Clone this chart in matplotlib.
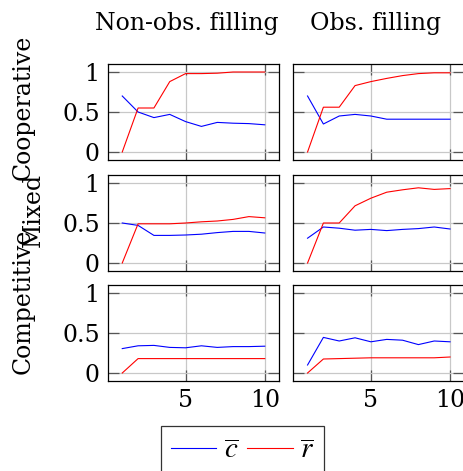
import matplotlib
matplotlib.use("Agg")
import matplotlib.pyplot as plt
from matplotlib.lines import Line2D

plt.rcParams['font.family'] = ['DejaVu Serif']
plt.rcParams['mathtext.fontset'] = 'stix'

# episodes on the x axis
steps = [1, 2, 3, 4, 5, 6, 7, 8, 9, 10]

col_titles = ["Non-obs. filling", "Obs. filling"]
row_titles = ["Cooperative", "Mixed", "Competitive"]

# mean c (blue) per panel, rows then columns
c_coop_nonobs = [0.70, 0.50, 0.43, 0.47, 0.38, 0.32, 0.37, 0.36, 0.355, 0.34]
c_coop_obs = [0.70, 0.35, 0.45, 0.47, 0.45, 0.41, 0.41, 0.41, 0.41, 0.41]
c_mixed_nonobs = [0.50, 0.47, 0.345, 0.345, 0.35, 0.36, 0.38, 0.395, 0.395, 0.375]
c_mixed_obs = [0.31, 0.45, 0.435, 0.41, 0.42, 0.405, 0.42, 0.43, 0.45, 0.425]
c_comp_nonobs = [0.305, 0.34, 0.345, 0.32, 0.315, 0.34, 0.32, 0.33, 0.33, 0.335]
c_comp_obs = [0.10, 0.445, 0.40, 0.44, 0.39, 0.42, 0.41, 0.355, 0.40, 0.39]

# mean r (red) per panel
r_coop_nonobs = [0.0, 0.55, 0.55, 0.88, 0.98, 0.98, 0.985, 1.0, 1.0, 1.0]
r_coop_obs = [0.0, 0.56, 0.56, 0.83, 0.88, 0.92, 0.955, 0.98, 0.99, 0.99]
r_mixed_nonobs = [0.0, 0.49, 0.49, 0.49, 0.50, 0.515, 0.525, 0.545, 0.58, 0.565]
r_mixed_obs = [0.0, 0.50, 0.50, 0.715, 0.81, 0.885, 0.915, 0.94, 0.92, 0.93]
r_comp_nonobs = [0.0, 0.18, 0.18, 0.18, 0.18, 0.18, 0.18, 0.18, 0.18, 0.18]
r_comp_obs = [0.0, 0.175, 0.18, 0.185, 0.19, 0.19, 0.19, 0.19, 0.19, 0.20]

c_grid = [[c_coop_nonobs, c_coop_obs],
          [c_mixed_nonobs, c_mixed_obs],
          [c_comp_nonobs, c_comp_obs]]
r_grid = [[r_coop_nonobs, r_coop_obs],
          [r_mixed_nonobs, r_mixed_obs],
          [r_comp_nonobs, r_comp_obs]]

W, H = 463, 471
fig = plt.figure(figsize=(W / 100, H / 100), dpi=100)

# panel boxes in pixels (left, top, width, height)
col_left = [108, 293.3]
row_top = [64, 175, 285]
pw, ph = 171, 96

fs = 17
for i in range(3):
    for j in range(2):
        ax = fig.add_axes([col_left[j] / W, 1 - (row_top[i] + ph) / H, pw / W, ph / H])
        ax.plot(steps, c_grid[i][j], color='blue', lw=0.8)
        ax.plot(steps, r_grid[i][j], color='red', lw=0.8)
        ax.set_xlim(0.1, 10.9)
        ax.set_ylim(-0.1, 1.1)
        ax.set_xticks([5, 10])
        ax.set_yticks([0, 0.5, 1])
        ax.set_yticklabels(['0', '0.5', '1'])
        ax.grid(True, color='#c8c8c8', lw=0.9)
        ax.set_axisbelow(True)
        ax.tick_params(direction='in', length=8, width=0.9, color='#555555',
                       top=True, right=True, labelsize=fs, pad=6)
        if j == 1:
            ax.tick_params(labelleft=False)
        if i < 2:
            ax.tick_params(labelbottom=False)
        for s in ax.spines.values():
            s.set_linewidth(0.9)

# column titles
fig.text(187 / W, 1 - 30 / H, col_titles[0], ha='center', va='baseline', fontsize=fs)
fig.text(376 / W, 1 - 30 / H, col_titles[1], ha='center', va='baseline', fontsize=fs)

# row labels
row_pos = [(23, 107), (33, 210), (23, 301)]
for t, (x, y) in zip(row_titles, row_pos):
    fig.text(x / W, 1 - y / H, t, rotation=90, ha='center', va='center', fontsize=fs)

handles = [Line2D([], [], color='blue', lw=0.8), Line2D([], [], color='red', lw=0.8)]
leg = fig.legend(handles, [r'$\overline{c}$', r'$\overline{r}$'], ncol=2,
                 loc='upper left', bbox_to_anchor=(161 / W, 1 - 426 / H),
                 borderaxespad=0, fontsize=21, frameon=True, fancybox=False,
                 handlelength=1.55, columnspacing=0.3, handletextpad=0.25,
                 borderpad=0.35)
leg.get_frame().set_edgecolor('black')
leg.get_frame().set_linewidth(0.9)

fig.savefig('out.png', dpi=100)
